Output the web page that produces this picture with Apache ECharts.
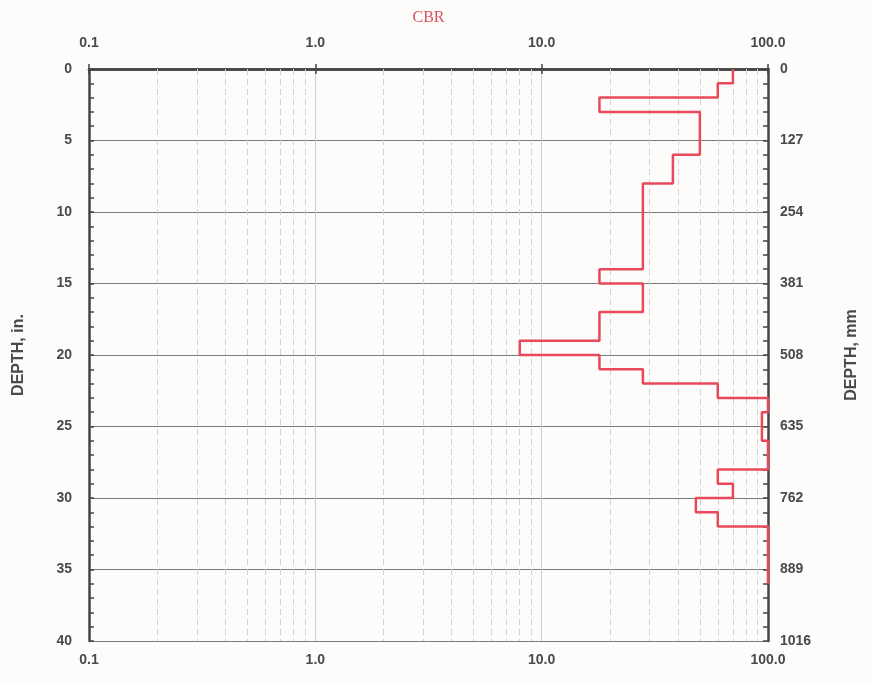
<!DOCTYPE html>
<html>
<head>
<meta charset="utf-8">
<script src="https://cdn.jsdelivr.net/npm/echarts@6/dist/echarts.min.js"></script>
<style>
  html, body { margin: 0; padding: 0; background: #fdfcfa; }
  #chart { width: 871px; height: 685px; }
</style>
</head>
<body>
<div id="chart"></div>
<script>
// layer data read from the profile (depth in inches, CBR %)
const depthTop    = [0, 1, 2, 3, 6, 8, 14, 15, 17, 19, 20, 21, 22, 23, 24, 26, 28, 29, 30, 31, 32]
const depthBottom = [1, 2, 3, 6, 8, 14, 15, 17, 19, 20, 21, 22, 23, 24, 26, 28, 29, 30, 31, 32, 36]
const cbrValues   = [70, 60, 18, 50, 38, 28, 18, 28, 18, 8, 18, 28, 60, 100, 94, 100, 60, 70, 48, 60, 100]

const depthInTicks = [0, 5, 10, 15, 20, 25, 30, 35, 40]
const depthMmTicks = [0, 127, 254, 381, 508, 635, 762, 889, 1016]
const minorGrid = [0.2, 0.3, 0.4, 0.5, 0.6, 0.7, 0.8, 0.9,
  2, 3, 4, 5, 6, 7, 8, 9, 20, 30, 40, 50, 60, 70, 80, 90]

// step profile built from the layers
const stepPoints = []
cbrValues.forEach((v, i) => {
  stepPoints.push([v, depthTop[i]])
  stepPoints.push([v, depthBottom[i]])
})

const axisColor = '#454545'
const labelStyle = { color: '#4a4a4a', fontSize: 14, fontWeight: 'bold', fontFamily: 'Liberation Sans, Arial' }

const chart = echarts.init(document.getElementById('chart'))

const logAxis = (pos) => ({
  type: 'log',
  logBase: 10,
  position: pos,
  min: 0.1,
  max: 100,
  axisLine: { show: true, lineStyle: { color: axisColor, width: 2.5 } },
  axisTick: { show: true, inside: true, length: 5, lineStyle: { color: axisColor, width: 1.5 } },
  axisLabel: Object.assign({ margin: pos === 'top' ? 19 : 12, formatter: v => Number(v).toFixed(1) }, labelStyle),
  splitLine: { show: pos === 'bottom', lineStyle: { color: '#cdcdcd', width: 1 } }
})

const depthAxis = (pos, max, interval, name, ticks, margin, gap) => ({
  type: 'value',
  position: pos,
  inverse: true,
  min: 0,
  max: max,
  interval: interval,
  name: name,
  nameLocation: 'middle',
  nameGap: gap,
  nameRotate: 90,
  nameTextStyle: Object.assign({}, labelStyle, { fontSize: 16 }),
  axisLine: { show: true, lineStyle: { color: axisColor, width: 2.5 } },
  axisTick: { show: true, inside: true, length: 5, lineStyle: { color: axisColor, width: 1.5 } },
  minorTick: { show: true, splitNumber: 5, length: 5, lineStyle: { color: axisColor, width: 1.5 } },
  axisLabel: Object.assign({ margin: margin, formatter: v => ticks.includes(v) ? String(v) : '' }, labelStyle),
  splitLine: { show: pos === 'left', lineStyle: { color: '#7a7a7a', width: 1 } }
})

const option = {
  backgroundColor: '#fdfcfa',
  animation: false,
  grid: { left: 89, right: 103, top: 69, bottom: 44, outerBoundsMode: 'none' },
  xAxis: [
    logAxis('bottom'),
    Object.assign(logAxis('top'), {
      name: 'CBR',
      nameLocation: 'middle',
      nameGap: 43,
      nameTextStyle: { color: '#d9505f', fontSize: 16, fontFamily: 'Liberation Serif, Times New Roman' }
    })
  ],
  yAxis: [
    depthAxis('left', 40, 5, 'DEPTH, in.', depthInTicks, 17, 62),
    depthAxis('right', 1016, 127, 'DEPTH, mm', depthMmTicks, 12, 76)
  ],
  series: [
    {
      type: 'line',
      xAxisIndex: 0,
      yAxisIndex: 0,
      data: stepPoints,
      showSymbol: false,
      symbol: 'none',
      lineStyle: { color: '#e8485a', width: 2.5 },
      markLine: {
        silent: true,
        symbol: 'none',
        label: { show: false },
        lineStyle: { color: '#d2d2d2', type: [6, 4], width: 1 },
        data: minorGrid.map(v => ({ xAxis: v }))
      },
      z: 5
    }
  ]
}

chart.setOption(option)
</script>
</body>
</html>
